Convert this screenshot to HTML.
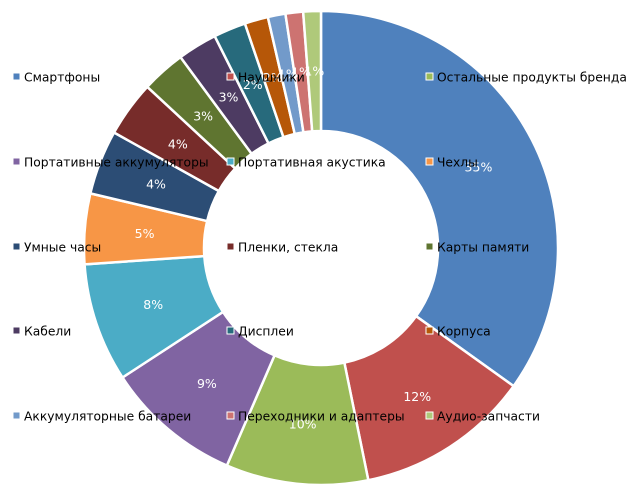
<!DOCTYPE html>
<html><head><meta charset="utf-8"><style>
body{margin:0;background:#fff;width:642px;height:495px;overflow:hidden}
svg{font-family:"DejaVu Sans","Liberation Sans",sans-serif}
</style></head><body>
<svg id="c" width="642" height="495"></svg>
<script>
const categories=["Смартфоны","Наушники","Остальные продукты бренда","Портативные аккумуляторы","Портативная акустика","Чехлы","Умные часы","Пленки, стекла","Карты памяти","Кабели","Дисплеи","Корпуса","Аккумуляторные батареи","Переходники и адаптеры","Аудио-запчасти"];
const values=[34.9,11.9,9.7,9.3,8.1,4.8,4.4,3.8,3.0,2.7,2.2,1.6,1.2,1.2,1.2];
const colors=["#4f81bd","#c0504d","#9bbb59","#8064a2","#4bacc6","#f79646","#2c4d75","#772c2a","#5f7530","#4d3b62","#276a7c","#b65708","#729aca","#cd7371","#afc97a"];
const NS="http://www.w3.org/2000/svg";
const svg=document.getElementById('c');
const cx=321,cy=248,R=237,r=117;
const total=values.reduce((a,b)=>a+b,0);
function pt(a,rad){return [cx+rad*Math.sin(a),cy-rad*Math.cos(a)];}
let acc=0;
const gSl=document.createElementNS(NS,'g');svg.appendChild(gSl);
const gLb=document.createElementNS(NS,'g');svg.appendChild(gLb);
values.forEach((v,i)=>{
  const a0=acc/total*2*Math.PI;acc+=v;const a1=acc/total*2*Math.PI;
  const big=(a1-a0)>Math.PI?1:0;
  const p1=pt(a0,R),p2=pt(a1,R),p3=pt(a1,r),p4=pt(a0,r);
  const p=document.createElementNS(NS,'path');
  p.setAttribute('d',`M${p1}A${R},${R} 0 ${big} 1 ${p2}L${p3}A${r},${r} 0 ${big} 0 ${p4}Z`);
  p.setAttribute('fill',colors[i]);p.setAttribute('stroke','#fff');p.setAttribute('stroke-width','2.5');
  
  
  gSl.appendChild(p);
  const am=(a0+a1)/2,lp=pt(am,177);
  const t=document.createElementNS(NS,'text');
  t.setAttribute('x',lp[0]);t.setAttribute('y',lp[1]+4.5);t.setAttribute('text-anchor','middle');
  t.setAttribute('font-size','12.5');t.setAttribute('fill','#fff');
  t.textContent=Math.round(v/total*100)+'%';
  
  
  gLb.appendChild(t);
});
const colX=[14,228,427],rowY=[77,162,247,331,416];
categories.forEach((c,i)=>{
  const x=colX[i%3],y=rowY[Math.floor(i/3)];
  const g=document.createElementNS(NS,'g');
  
  
  const s=document.createElementNS(NS,'rect');
  s.setAttribute('x',x-1);s.setAttribute('y',y-4);s.setAttribute('width',7);s.setAttribute('height',7);
  s.setAttribute('fill',colors[i]);s.setAttribute('stroke','#fff');s.setAttribute('stroke-width','1');
  g.appendChild(s);
  const t=document.createElementNS(NS,'text');
  t.setAttribute('x',x+10);t.setAttribute('y',y+4.5);t.setAttribute('font-size','12.3');t.setAttribute('fill','#000');
  t.textContent=c;g.appendChild(t);
  svg.appendChild(g);
});
</script>
</body></html>
